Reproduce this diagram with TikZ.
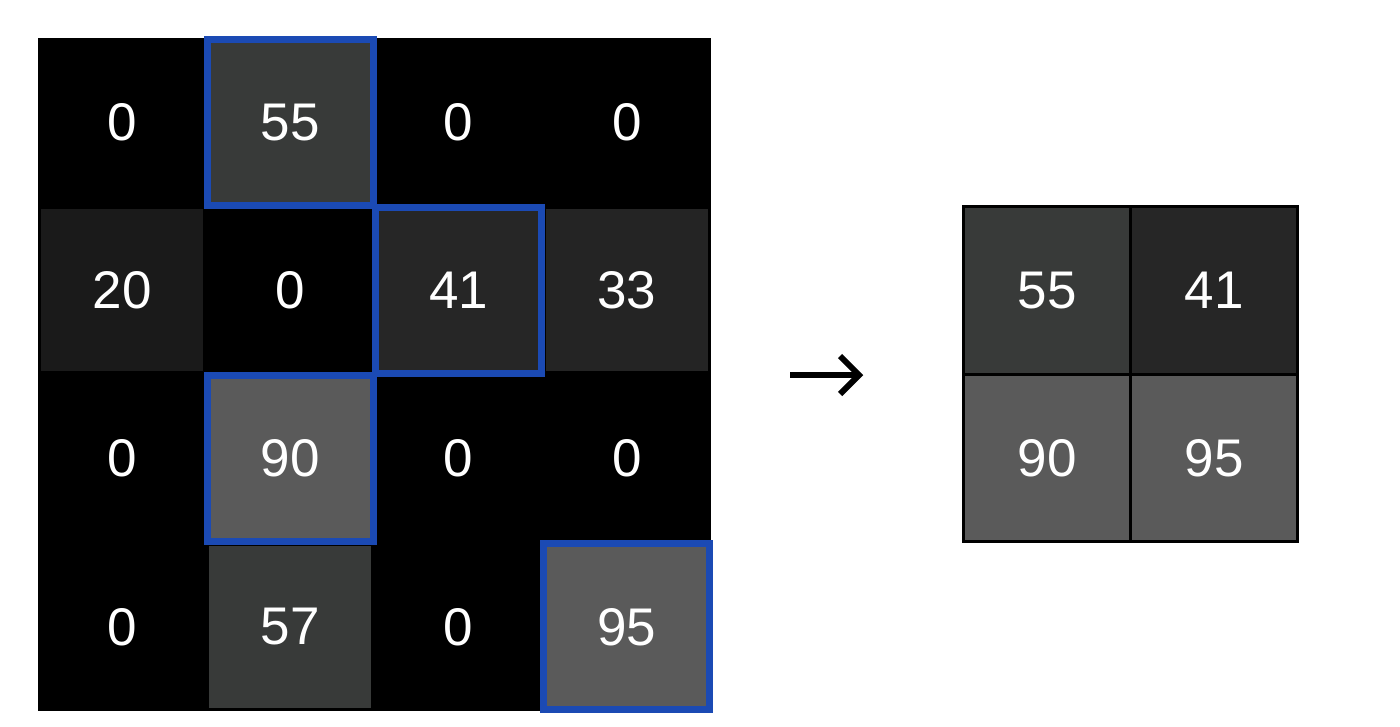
\documentclass[tikz,border=0pt]{standalone}
\usepackage{fontspec}
\setmainfont{Liberation Sans}
\definecolor{pblue}{RGB}{27,74,180}
\definecolor{gA}{RGB}{56,58,57}
\definecolor{gB}{RGB}{38,38,38}
\definecolor{gC}{RGB}{36,36,36}
\definecolor{gD}{RGB}{26,26,26}
\definecolor{gE}{RGB}{90,90,90}
\tikzset{
  num/.style={text=white,font=\fontsize{53}{60}\selectfont},
  cellL/.style={minimum size=162pt,inner sep=0pt,outer sep=0pt,num},
  cellR/.style={minimum size=168pt,inner sep=0pt,outer sep=0pt,num},
  pool/.style={draw=pblue,line width=7pt},
  grid/.style={draw=black,line width=3pt},
}
\begin{document}
\begin{tikzpicture}[x=1pt,y=-1pt]
\useasboundingbox (0,0) rectangle (1400,726);
\fill[white] (0,0) rectangle (1400,726);
% left input map
\fill[black] (38,38) rectangle (711,711);
\def\cw{168.25}
\foreach \r/\c/\v/\col in {
 0/0/0/black,0/1/55/gA,0/2/0/black,0/3/0/black,
 1/0/20/gD,1/1/0/black,1/2/41/gB,1/3/33/gC,
 2/0/0/black,2/1/90/gE,2/2/0/black,2/3/0/black,
 3/0/0/black,3/1/57/gA,3/2/0/black,3/3/95/gE}{
  \node[cellL,fill=\col] (L\r\c) at ({38+\cw*(\c+0.5)},{38+\cw*(\r+0.5)}) {\v};
}
% pooling windows
\draw[pool] (207.5,39.5) rectangle (373.5,205.5);
\draw[pool] (375.5,207.5) rectangle (541.5,373.5);
\draw[pool] (207.5,375.5) rectangle (373.5,541.5);
\draw[pool] (543.5,543.5) rectangle (709.5,709.5);
% arrow
\coordinate (as) at (790,375);
\coordinate (ae) at (859,375);
\draw[line width=6pt] (as) -- ([xshift=-2pt]ae);
\draw[line width=6pt,line join=miter] ([shift={(-19,-19)}]ae) -- (ae) -- ([shift={(-19,19)}]ae);
% right output map
\foreach \r/\c/\v/\col in {0/0/55/gA,0/1/41/gB,1/0/90/gE,1/1/95/gE}{
  \node[cellR,fill=\col] (R\r\c) at ({963.5+167*(\c+0.5)},{206.5+167.5*(\r+0.5)}) {\v};
}
\draw[grid] (963.5,206.5) rectangle (1297.5,541.5);
\draw[grid] (1130.5,206.5) -- (1130.5,541.5);
\draw[grid] (963.5,374) -- (1297.5,374);
\end{tikzpicture}
\end{document}
